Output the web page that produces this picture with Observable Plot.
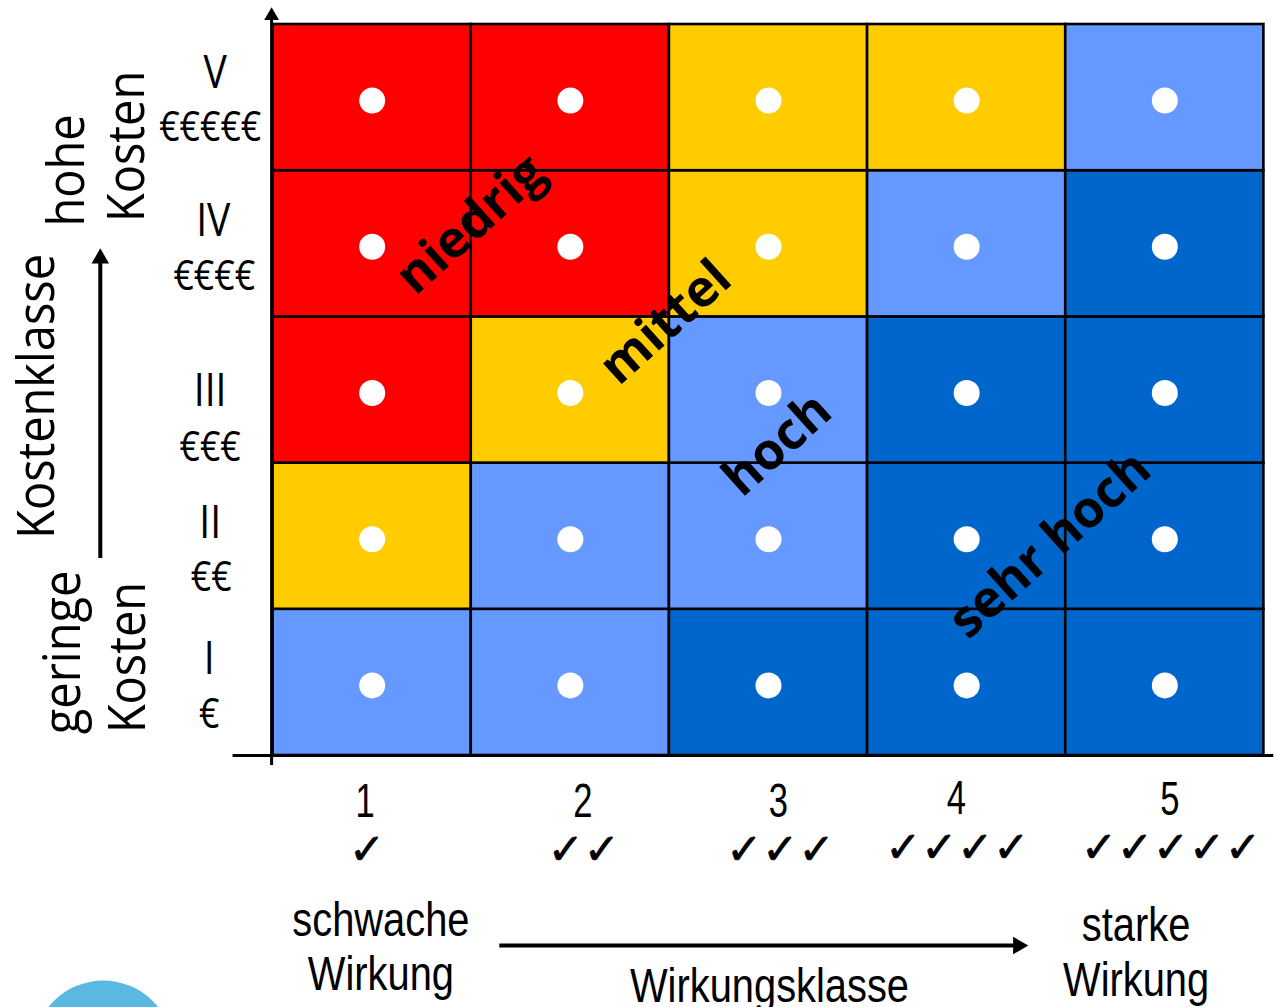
<!DOCTYPE html>
<html><head><meta charset="utf-8">
<style>html,body{margin:0;padding:0;background:#fff;overflow:hidden}svg{display:block}</style>
<script src="https://cdn.jsdelivr.net/npm/d3@7"></script>
<script src="https://cdn.jsdelivr.net/npm/@observablehq/plot@0.6"></script>
</head><body><script>
const wirkung = [1, 2, 3, 4, 5];
const kosten = [1, 2, 3, 4, 5];
const klassen = ["niedrig", "mittel", "hoch", "sehr hoch"];
const farben = ["#ff0000", "#ffcc00", "#6699ff", "#0066cc"];
// rows from cost class I to V, columns from effect class 1 to 5
const matrix = [
  ["hoch", "hoch", "sehr hoch", "sehr hoch", "sehr hoch"],
  ["mittel", "hoch", "hoch", "sehr hoch", "sehr hoch"],
  ["niedrig", "mittel", "hoch", "sehr hoch", "sehr hoch"],
  ["niedrig", "niedrig", "mittel", "hoch", "sehr hoch"],
  ["niedrig", "niedrig", "mittel", "mittel", "hoch"]
];
const cells = kosten.flatMap((k, r) => wirkung.map((w, c) => ({w, k, klasse: matrix[r][c]})));

const roemisch = [["V",.208,5.165],["IV",.198,4.152],["III",.182,2.99],["II",.1825,2.087],["I",.177,1.156]];
const euro = [["€€€€€",.1825,4.795],["€€€€",.203,3.776],["€€€",.182,2.607],["€€",.188,1.717],["€",.177,.78]];
const zahlen = [["1",.964,.185],["2",2.063,.185],["3",3.05,.185],["4",3.948,.206],["5",5.026,.199]];
const haken = [["✓",.974,-.15],["✓✓",2.068,-.15],["✓✓✓",3.06,-.15],["✓✓✓✓",3.953,-.136],["✓✓✓✓✓",5.031,-.136]];
const wirkungText = [["schwache",1.044,-.629],["Wirkung",1.044,-.998],["starke",4.855,-.665],["Wirkung",4.855,-1.041],["Wirkungsklasse",3.005,-1.08]];
const kostenText = [["hohe",-.538,4.501],["Kosten",-.236,4.666],["Kostenklasse",-.69,2.956],["geringe",-.558,1.205],["Kosten",-.231,1.17]];
const diagonal = [["niedrig",1.498,4.132],["mittel",2.481,3.462],["hoch",3.045,2.627],["sehr hoch",4.421,1.943]];

const tx = (rows, o) => Plot.text(rows, {text: d => d[0], x: d => d[1], y: d => d[2], fill: "#000", ...o});
const sans = "'Liberation Sans',sans-serif";
const open = "'Open Sans',sans-serif";

const chart = Plot.plot({
  width: 1274, height: 1007,
  marginLeft: 272.6, marginRight: 10.6, marginTop: 24, marginBottom: 252,
  x: {domain: [.5, 5.5], axis: null},
  y: {domain: [.5, 5.5], axis: null},
  color: {domain: klassen, range: farben},
  r: {type: "identity"},
  marks: [
    Plot.dot([[-.357, -1.518]], {x: d => d[0], y: d => d[1], r: 70, fill: "#5bb8e2"}),
    Plot.rect(cells, {x1: d => d.w - .5, x2: d => d.w + .5, y1: d => d.k - .5, y2: d => d.k + .5, fill: "klasse", stroke: "#000", strokeWidth: 2.6}),
    Plot.dot(cells, {x: "w", y: "k", r: 13, fill: "#fff", dx: 0, dy: 3}),
    Plot.ruleX([.5], {y1: .432, y2: 5.56, stroke: "#000", strokeWidth: 3, dx: -1.5}),
    Plot.ruleY([.5], {x1: .298, x2: 5.55, stroke: "#000", strokeWidth: 3}),
    Plot.dot([[.5, 5.56, 0]], {x: d => d[0], y: d => d[1], rotate: d => d[2], symbol: "triangle", r: 5.5, fill: "#000", dx: -1.5}),
    Plot.ruleX([-.372], {y1: 1.847, y2: 3.872, stroke: "#000", strokeWidth: 4}),
    Plot.dot([[-.372, 3.9, 0]], {x: d => d[0], y: d => d[1], rotate: d => d[2], symbol: "triangle", r: 6.5, fill: "#000"}),
    Plot.ruleY([-.8], {x1: 1.644, x2: 4.24, stroke: "#000", strokeWidth: 4}),
    Plot.dot([[4.26, -.8, 90]], {x: d => d[0], y: d => d[1], rotate: d => d[2], symbol: "triangle", r: 6.5, fill: "#000"}),
    tx(roemisch, {fontFamily: open, fontSize: 46, className: "c85"}),
    tx(euro, {fontFamily: open, fontSize: 42, className: "c85"}),
    tx(zahlen, {fontFamily: sans, fontSize: 48, className: "c72"}),
    tx(haken, {fontFamily: "'DejaVu Sans'", fontSize: 43, fontWeight: "bold", stroke: "#000", strokeWidth: .8}),
    tx(wirkungText, {fontFamily: sans, fontSize: 48, className: "c83"}),
    tx(kostenText, {fontFamily: open, fontSize: 51, rotate: -90, className: "c92"}),
    tx(diagonal, {fontFamily: open, fontSize: 51, fontWeight: "bold", rotate: -42})
  ]
});
document.body.appendChild(chart);
// condense the glyphs of real text, since no narrow font is installed
for (const [cls, f] of [["c85", .85], ["c72", .72], ["c83", .83], ["c92", .92]]) {
  chart.querySelectorAll(`.${cls} text`).forEach(t => {
    t.setAttribute("textLength", t.getComputedTextLength() * f);
    t.setAttribute("lengthAdjust", "spacingAndGlyphs");
  });
}
</script></body></html>
